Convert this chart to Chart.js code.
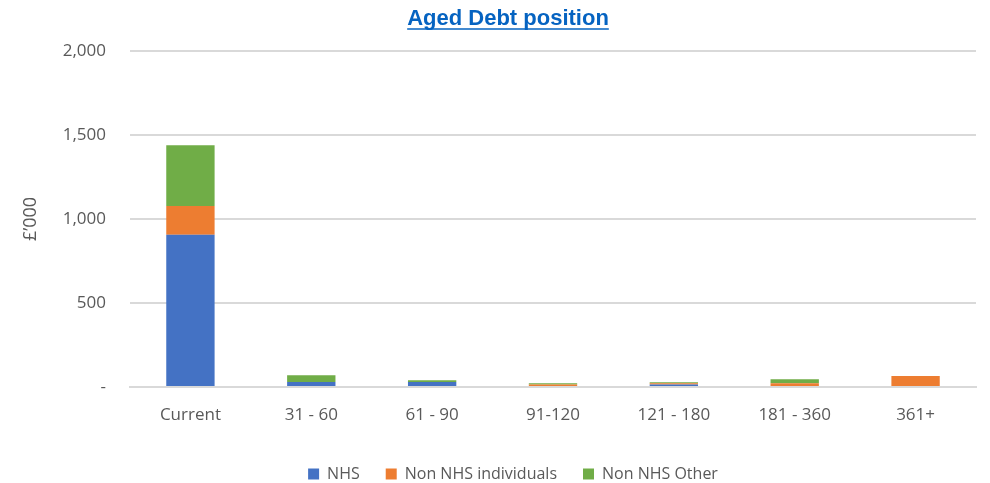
<!DOCTYPE html>
<html>
<head>
<meta charset="utf-8">
<script src="https://cdn.jsdelivr.net/npm/chart.js@4/dist/chart.umd.min.js"></script>
<style>
  html, body { margin: 0; padding: 0; background: #fff; }
  #wrap { position: relative; width: 990px; height: 483px; }
</style>
</head>
<body>
<div id="wrap"><canvas id="c" width="990" height="483"></canvas></div>
<script>
// Aged debt buckets (£'000)
const categories = ['Current', '31 - 60', '61 - 90', '91-120', '121 - 180', '181 - 360', '361+'];
const nhs = [906, 30, 30, 0, 15, 0, 0];
const nonNhsIndividuals = [171, 0, 0, 15, 8, 22, 65];
const nonNhsOther = [362, 40, 10, 8, 6, 24, 0];
const yTicks = [0, 500, 1000, 1500, 2000];
const chartTitle = 'Aged Debt position';
const yAxisTitle = '£\u2019000';

const tickFont = { family: '"Open Sans", sans-serif', size: 17 };

// Underlined, link-blue chart heading and the rotated value-axis caption
const headingPlugin = {
  id: 'heading',
  afterDraw(chart) {
    const ctx = chart.ctx;
    ctx.save();
    ctx.font = 'bold 22px "Liberation Sans", Arial, sans-serif';
    ctx.fillStyle = '#0563C1';
    ctx.textAlign = 'center';
    ctx.textBaseline = 'alphabetic';
    const cx = 508;
    ctx.fillText(chartTitle, cx, 25);
    const w = ctx.measureText(chartTitle).width;
    ctx.strokeStyle = '#0563C1';
    ctx.lineWidth = 1.5;
    ctx.beginPath();
    ctx.moveTo(cx - w / 2, 29);
    ctx.lineTo(cx + w / 2, 29);
    ctx.stroke();
    ctx.restore();

    const area = chart.chartArea;
    ctx.save();
    ctx.translate(31, (area.top + area.bottom) / 2);
    ctx.rotate(-Math.PI / 2);
    ctx.font = '18px "Open Sans", sans-serif';
    ctx.fillStyle = '#595959';
    ctx.textAlign = 'center';
    ctx.textBaseline = 'middle';
    ctx.fillText(yAxisTitle, 0, 0);
    ctx.restore();
  }
};

new Chart(document.getElementById('c'), {
  type: 'bar',
  data: {
    labels: categories,
    datasets: [
      { label: 'NHS', data: nhs, backgroundColor: '#4472C4' },
      { label: 'Non NHS individuals', data: nonNhsIndividuals, backgroundColor: '#ED7D31' },
      { label: 'Non NHS Other', data: nonNhsOther, backgroundColor: '#70AD47' }
    ]
  },
  options: {
    responsive: false,
    animation: false,
    layout: { padding: { left: 50, right: 14, top: 51, bottom: -9 } },
    datasets: { bar: { barPercentage: 0.4, categoryPercentage: 1.0 } },
    scales: {
      x: {
        stacked: true,
        afterFit(axis) { axis.height = 53; },
        grid: { display: false, drawTicks: false },
        border: { color: '#d9d9d9', width: 2 },
        ticks: { color: '#595959', font: tickFont, padding: 18 }
      },
      y: {
        stacked: true,
        min: 0,
        max: 2000,
        afterBuildTicks(axis) { axis.ticks = yTicks.map(v => ({ value: v })); },
        afterFit(axis) { axis.width = 80; },
        grid: { color: '#d9d9d9', lineWidth: 2, drawTicks: false },
        border: { display: false },
        ticks: {
          color: '#595959',
          font: tickFont,
          padding: 24,
          callback: v => v === 0 ? '-' : v.toLocaleString('en-GB')
        }
      }
    },
    plugins: {
      title: { display: false },
      legend: {
        position: 'bottom',
        labels: {
          color: '#595959',
          font: { family: '"Open Sans", sans-serif', size: 16 },
          boxWidth: 11,
          boxHeight: 11,
          padding: 26
        }
      },
      tooltip: { enabled: false }
    }
  },
  plugins: [headingPlugin]
});
</script>
</body>
</html>
